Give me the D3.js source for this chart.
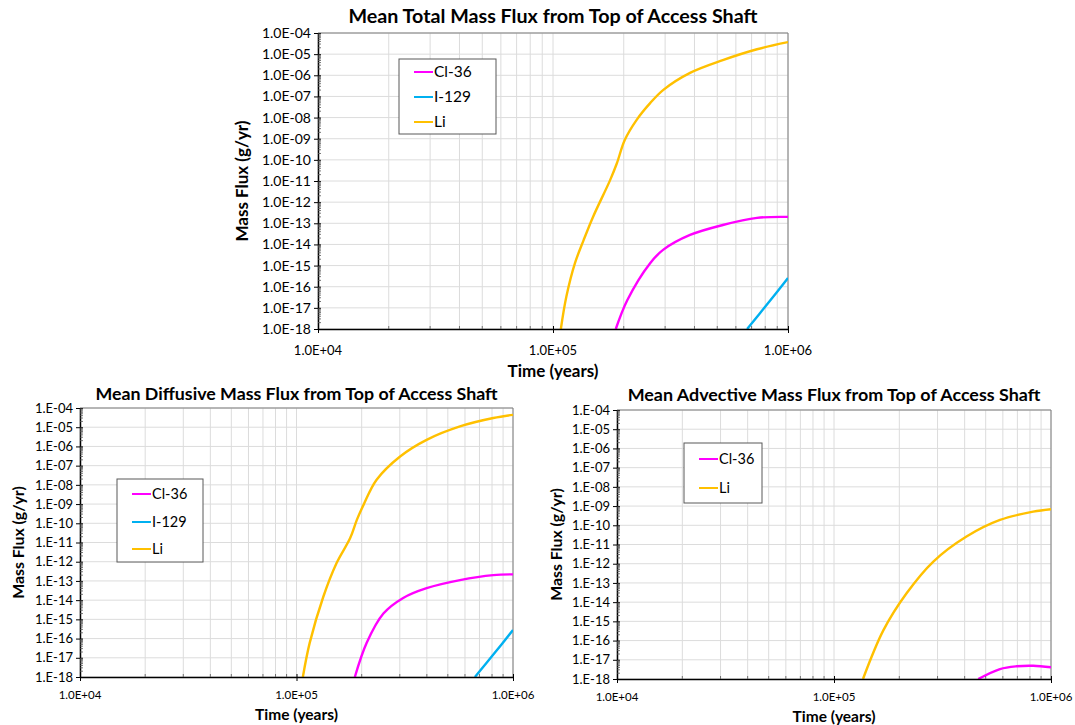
<!DOCTYPE html>
<html>
<head>
<meta charset="utf-8">
<script src="https://cdn.jsdelivr.net/npm/d3@7"></script>
<style>
  body { margin: 0; background: #fff; }
  svg { font-family: Lato, "Liberation Sans", sans-serif; }
</style>
</head>
<body>
<div id="chart"></div>
<script>
// ---- data (time in years, flux in g/yr) ----
const seriesColors = { 'Cl-36': '#ff00ff', 'I-129': '#00b0f0', 'Li': '#ffc000' };

// total
const totalLiTime   = [1.08e5, 1.14e5, 1.24e5, 1.35e5, 1.48e5, 1.75e5, 1.87e5, 2.02e5, 2.27e5, 2.59e5, 2.94e5, 3.83e5, 5.28e5, 7.38e5, 1.0e6];
const totalLiFlux   = [1e-18, 3.4e-17, 1.3e-15, 1.6e-14, 2.0e-13, 1.1e-11, 6.9e-11, 8.7e-10, 7.8e-9, 4.8e-8, 2.0e-7, 1.3e-6, 5.2e-6, 1.7e-5, 3.7e-5];
const totalClTime   = [1.85e5, 2.07e5, 2.59e5, 2.94e5, 3.83e5, 5.28e5, 7.38e5, 1.0e6];
const totalClFlux   = [1e-18, 2.3e-17, 1.3e-15, 5.5e-15, 2.8e-14, 8.3e-14, 1.8e-13, 2.0e-13];
const totalITime    = [6.7e5, 8.2e5, 1.0e6];
const totalIFlux    = [1e-18, 1.6e-17, 2.6e-16];

// diffusive
const diffLiTime    = [1.07e5, 1.15e5, 1.33e5, 1.53e5, 1.77e5, 1.90e5, 2.04e5, 2.34e5, 3.01e5, 3.99e5, 5.69e5, 8.11e5, 1.0e6];
const diffLiFlux    = [1e-18, 5.8e-17, 1.5e-14, 8.3e-13, 1.7e-11, 1.5e-10, 9.1e-10, 1.8e-8, 3.0e-7, 2.2e-6, 1.1e-5, 3.0e-5, 4.4e-5];
const diffClTime    = [1.86e5, 2.11e5, 2.52e5, 3.11e5, 3.99e5, 5.69e5, 8.11e5, 1.0e6];
const diffClFlux    = [1e-18, 6.0e-17, 2.0e-15, 1.3e-14, 4.2e-14, 1.1e-13, 2.0e-13, 2.2e-13];
const diffITime     = [6.67e5, 8.2e5, 1.0e6];
const diffIFlux     = [1e-18, 1.7e-17, 2.8e-16];

// advective
const advLiTime     = [1.36e5, 1.69e5, 2.16e5, 2.87e5, 4.08e5, 5.82e5, 8.28e5, 1.0e6];
const advLiFlux     = [1e-18, 3.5e-16, 2.9e-14, 1.3e-12, 2.6e-11, 1.9e-10, 5.1e-10, 6.9e-10];
const advClTime     = [4.62e5, 5.82e5, 6.95e5, 8.28e5, 1.0e6];
const advClFlux     = [1e-18, 3.3e-18, 4.6e-18, 4.9e-18, 4.1e-18];

const xDomain = [1e4, 1e6];
const yDomain = [1e-18, 1e-4];
const xTicks = [1e4, 1e5, 1e6];
const yTicks = [1e-18, 1e-17, 1e-16, 1e-15, 1e-14, 1e-13, 1e-12, 1e-11, 1e-10, 1e-9, 1e-8, 1e-7, 1e-6, 1e-5, 1e-4];

const zip = (ts, fs) => ts.map((t, i) => [t, fs[i]]);

const charts = [
  {
    title: 'Mean Total Mass Flux from Top of Access Shaft',
    x0: 318, x1: 788, y0: 33, y1: 329,
    titleY: 23, titleSize: 19.7,
    yFmtDec: true, yTickSize: 14, xTickSize: 13, xTickY: 355,
    xTitleY: 377, xTitleSize: 17, yTitleSize: 17, yTitleX: 248,
    legend: { x: 399, y: 59, w: 97, h: 75, rows: [72, 97, 122], size: 15.5 },
    series: [
      { name: 'Cl-36', data: zip(totalClTime, totalClFlux) },
      { name: 'I-129', data: zip(totalITime, totalIFlux) },
      { name: 'Li', data: zip(totalLiTime, totalLiFlux) }
    ]
  },
  {
    title: 'Mean Diffusive Mass Flux from Top of Access Shaft',
    x0: 80, x1: 513, y0: 408, y1: 677,
    titleY: 400, titleSize: 17.8,
    yFmtDec: false, yTickSize: 13, xTickSize: 11.5, xTickY: 699,
    xTitleY: 720, xTitleSize: 15.5, yTitleSize: 15.8, yTitleX: 24,
    legend: { x: 117, y: 479, w: 86, h: 83, rows: [494, 522, 549], size: 14.5 },
    series: [
      { name: 'Cl-36', data: zip(diffClTime, diffClFlux) },
      { name: 'I-129', data: zip(diffITime, diffIFlux) },
      { name: 'Li', data: zip(diffLiTime, diffLiFlux) }
    ]
  },
  {
    title: 'Mean Advective Mass Flux from Top of Access Shaft',
    x0: 617, x1: 1051, y0: 410, y1: 679,
    titleY: 401, titleSize: 17.9,
    yFmtDec: false, yTickSize: 13, xTickSize: 11.5, xTickY: 701,
    xTitleY: 722, xTitleSize: 15.5, yTitleSize: 15.8, yTitleX: 562,
    legend: { x: 684, y: 443, w: 78, h: 60, rows: [459, 488], size: 14.5 },
    series: [
      { name: 'Cl-36', data: zip(advClTime, advClFlux) },
      { name: 'Li', data: zip(advLiTime, advLiFlux) }
    ]
  }
];

const width = 1075, height = 725;
const svg = d3.select('#chart').append('svg')
  .attr('width', width)
  .attr('height', height);

function expFmt(v, dec) {
  const e = Math.round(Math.log10(v));
  const sign = e < 0 ? '-' : '+';
  const a = String(Math.abs(e)).padStart(2, '0');
  return (dec ? '1.0E' : '1.E') + sign + a;
}

charts.forEach((c, ci) => {
  const x = d3.scaleLog().domain(xDomain).range([c.x0, c.x1]);
  const y = d3.scaleLog().domain(yDomain).range([c.y1, c.y0]);
  const g = svg.append('g');

  // minor positions 1..9 x each decade
  const xMinor = [];
  [1e4, 1e5].forEach(d => { for (let k = 1; k <= 9; k++) xMinor.push(d * k); });
  xMinor.push(1e6);
  const yMinor = [];
  yTicks.slice(0, -1).forEach(d => { for (let k = 2; k <= 9; k++) yMinor.push(d * k); });

  // grid
  g.append('g').selectAll('line').data(xMinor).join('line')
    .attr('x1', d => x(d)).attr('x2', d => x(d))
    .attr('y1', c.y0).attr('y2', c.y1)
    .attr('stroke', '#dcdcdc').attr('stroke-width', 1);
  g.append('g').selectAll('line').data(yTicks).join('line')
    .attr('x1', c.x0).attr('x2', c.x1)
    .attr('y1', d => y(d)).attr('y2', d => y(d))
    .attr('stroke', '#dcdcdc').attr('stroke-width', 1);

  // plot frame (top/right)
  g.append('path')
    .attr('d', `M${c.x0},${c.y0}H${c.x1}V${c.y1}`)
    .attr('fill', 'none').attr('stroke', '#7f7f7f').attr('stroke-width', 1);

  // series
  const clipId = 'clip' + ci;
  svg.append('clipPath').attr('id', clipId).append('rect')
    .attr('x', c.x0).attr('y', c.y0).attr('width', c.x1 - c.x0).attr('height', c.y1 - c.y0 + 1);
  const line = d3.line().x(d => x(d[0])).y(d => y(d[1])).curve(d3.curveCatmullRom.alpha(0.5));
  g.append('g').attr('clip-path', `url(#${clipId})`)
    .selectAll('path').data(c.series).join('path')
    .attr('d', d => line(d.data))
    .attr('fill', 'none')
    .attr('stroke', d => seriesColors[d.name])
    .attr('stroke-width', 2.4);

  // y axis
  const yAxis = g.append('g').attr('transform', `translate(${c.x0},0)`)
    .call(d3.axisLeft(y).tickValues(yTicks).tickFormat(d => expFmt(d, c.yFmtDec))
      .tickSizeInner(4).tickSizeOuter(0).tickPadding(3));
  yAxis.select('.domain').attr('stroke', '#000').attr('stroke-width', 1.5);
  yAxis.selectAll('.tick line').attr('stroke', '#000').attr('x2', -4).attr('x1', 3);
  yAxis.selectAll('.tick text').attr('font-size', c.yTickSize).attr('fill', '#000')
    .attr('font-family', 'Lato, sans-serif');
  g.append('g').selectAll('line').data(yMinor).join('line')
    .attr('x1', c.x0).attr('x2', c.x0 + 3)
    .attr('y1', d => y(d)).attr('y2', d => y(d))
    .attr('stroke', '#555').attr('stroke-width', 0.8);

  // x axis
  const xAxis = g.append('g').attr('transform', `translate(0,${c.y1})`)
    .call(d3.axisBottom(x).tickValues(xTicks).tickFormat(d => expFmt(d, true))
      .tickSizeInner(4).tickSizeOuter(0).tickPadding(3));
  xAxis.select('.domain').attr('stroke', '#000').attr('stroke-width', 1.5);
  xAxis.selectAll('.tick line').attr('stroke', '#000').attr('y1', -3);
  xAxis.selectAll('.tick text').remove();
  g.append('g').selectAll('text').data(xTicks).join('text')
    .attr('x', d => x(d)).attr('y', c.xTickY)
    .attr('text-anchor', 'middle').attr('font-size', c.xTickSize)
    .text(d => expFmt(d, true));
  g.append('g').selectAll('line').data(xMinor.filter(d => !xTicks.includes(d))).join('line')
    .attr('x1', d => x(d)).attr('x2', d => x(d))
    .attr('y1', c.y1).attr('y2', c.y1 - 3)
    .attr('stroke', '#555').attr('stroke-width', 0.8);

  // titles
  const xMid = (c.x0 + c.x1) / 2, yMid = (c.y0 + c.y1) / 2;
  g.append('text').attr('x', xMid).attr('y', c.titleY)
    .attr('text-anchor', 'middle').attr('font-weight', 'bold').attr('font-size', c.titleSize)
    .text(c.title);
  g.append('text').attr('x', xMid).attr('y', c.xTitleY)
    .attr('text-anchor', 'middle').attr('font-weight', 'bold').attr('font-size', c.xTitleSize)
    .text('Time (years)');
  g.append('text')
    .attr('transform', `translate(${c.yTitleX},${yMid}) rotate(-90)`)
    .attr('text-anchor', 'middle').attr('font-weight', 'bold').attr('font-size', c.yTitleSize)
    .text('Mass Flux (g/yr)');

  // legend
  const L = c.legend;
  const lg = g.append('g');
  lg.append('rect').attr('x', L.x).attr('y', L.y).attr('width', L.w).attr('height', L.h)
    .attr('fill', '#fff').attr('stroke', '#595959').attr('stroke-width', 1);
  const items = lg.selectAll('g').data(c.series).join('g');
  items.append('line')
    .attr('x1', L.x + 15).attr('x2', L.x + 34)
    .attr('y1', (d, i) => L.rows[i]).attr('y2', (d, i) => L.rows[i])
    .attr('stroke', d => seriesColors[d.name]).attr('stroke-width', 2);
  items.append('text')
    .attr('x', L.x + 35).attr('y', (d, i) => L.rows[i])
    .attr('dy', '0.35em').attr('font-size', L.size)
    .text(d => d.name);
});
</script>
</body>
</html>
